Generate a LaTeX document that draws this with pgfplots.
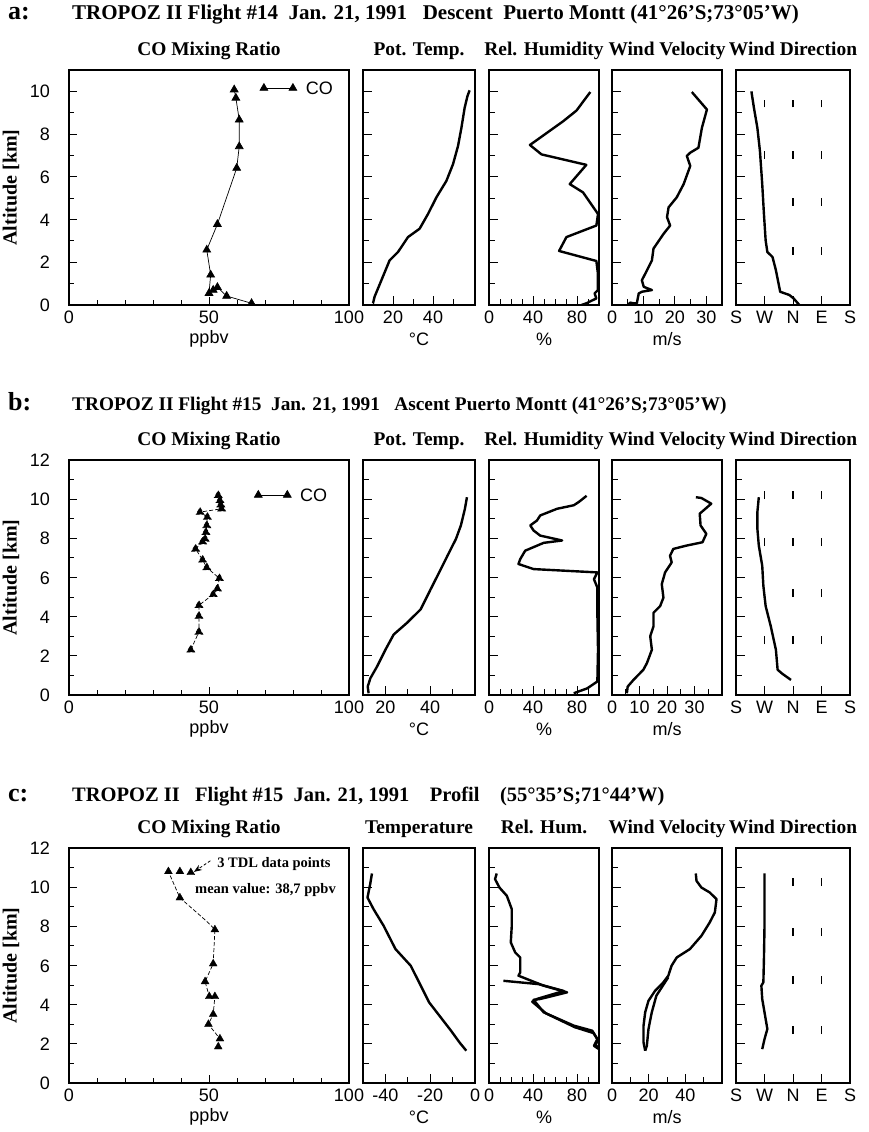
\documentclass[border=0pt]{standalone}
\usepackage{pgfplots}
\pgfplotsset{compat=1.18}
\usepackage{fontspec}
\usetikzlibrary{arrows.meta}
\setmainfont{Liberation Serif}
\newfontfamily\sansf{Liberation Sans}
\newcommand\tickf{\sansf\fontsize{18}{20}\selectfont}
\newcommand\titf{\bfseries\fontsize{19.4}{21}\selectfont}
\newcommand\bigf{\bfseries\fontsize{26}{26}\selectfont}

\pgfplotsset{
  panel/.style={
    scale only axis, height=235pt,
    axis line style={line width=1.4pt},
    tick align=inside, xtick pos=left, ytick pos=left,
    major tick length=9pt, minor tick length=6pt,
    tick style={line width=1pt, black},
    ticklabel style={font=\tickf, inner sep=0pt},
    xticklabel style={anchor=base, yshift=-18pt},
    yticklabel style={anchor=base east, xshift=-19pt, yshift=-6.5pt},
    yticklabels={},
    ymin=0, minor y tick num=1,
    every axis title/.style={at={(axis description cs:0.5,1)}, anchor=base, yshift=15pt, font=\titf},
    every axis x label/.style={at={(axis description cs:0.5,0)}, anchor=center, yshift=-34pt, font=\tickf},
    every axis y label/.style={at={(axis description cs:-0.207,0.5)}, rotate=90, anchor=center, font=\bfseries\fontsize{20}{22}\selectfont},
  },
  rowa/.style={panel, ymax=11, ytick={0,2,...,10}},
  rowb/.style={panel, ymax=12, ytick={0,2,...,12}},
  co/.style={width=280pt, xmin=0, xmax=100, xtick={0,50,100}, xticklabels={0,50,100}, minor xtick={10,20,30,40,60,70,80,90}, xlabel={ppbv}, title={CO Mixing Ratio}, ylabel={Altitude [km]}, major tick length=8pt, minor tick length=5pt},
  rh/.style={width=110pt, xmin=0, xmax=100, xtick={0,40,80}, xticklabels={0,40,80}, minor xtick={10,20,30,50,60,70,90}, xlabel={\%}},
  wv/.style={width=110pt, xlabel={m/s}, title={Wind Velocity}},
  wd/.style={width=114pt, xmin=0, xmax=4, xtick={0,1,2,3,4}, xticklabels={S,W,N,E,S}, title={Wind Direction}},
  curve/.style={line width=2.4pt, black, no markers, line join=round},
  comark/.style={black, mark=triangle*, mark size=4.5pt, line width=0.7pt},
  dashes/.style={line width=1.3pt, black, no markers, unbounded coords=jump},
  colegend/.style={legend image code/.code={\draw[##1, solid] plot coordinates {(0pt,0pt) (29pt,0pt)};},
     legend style={draw=none, fill=none, font=\tickf, inner sep=0pt, nodes={inner sep=2pt, text depth=0pt}, cells={anchor=west}}},
}

\begin{document}
\begin{tikzpicture}
\useasboundingbox (0pt,0pt) rectangle (868pt,-1132pt);

% ---------------- row a ----------------
\node[anchor=base west, font=\bigf, inner sep=0pt] at (8pt,-20pt) {a:};
\node[anchor=base west, font=\bfseries\fontsize{21}{23}\selectfont, inner sep=0pt] at (72pt,-20pt) {TROPOZ II Flight \#14\ \ Jan. 21, 1991\ \ \ Descent\ \ Puerto Montt (41°26'S;73°05'W)};

\begin{axis}[rowa, co, at={(69pt,-305pt)}, anchor=south west, yticklabels={0,2,4,6,8,10}, colegend,
  legend style={at={(axis description cs:0.95,0.923)}, anchor=east}]
\addplot[comark] coordinates {(65.2,0.08)(56.3,0.42)(53.0,0.83)(51.5,0.70)(50.0,0.55)(50.6,1.41)(49.2,2.58)(53.0,3.78)(59.9,6.41)(60.8,7.42)(60.8,8.67)(59.6,9.69)(59.0,10.08)};
\addlegendentry{\hspace{7pt}CO}
\end{axis}

\begin{axis}[rowa, width=112pt, at={(363pt,-305pt)}, anchor=south west, xmin=5, xmax=61, xtick={20,40}, xticklabels={20,40}, minor xtick={10,30,50}, xlabel={°C}, title={Pot. Temp.}]
\addplot[curve] coordinates {(10,0.08)(10.8,0.39)(14.2,1.16)(18.3,2.09)(22.5,2.48)(27.5,3.18)(33.3,3.57)(37.5,4.26)(41.7,5.04)(46.7,5.81)(50,6.59)(52.5,7.44)(54.2,8.29)(55.8,9.22)(57.2,9.77)(58.3,10.05)};
\end{axis}

\begin{axis}[rowa, rh, at={(489pt,-305pt)}, anchor=south west, title={Rel. Humidity}]
\addplot[curve] coordinates {(84,0)(88.5,0.08)(97.6,0.31)(96,0.54)(99,0.7)(99,1.47)(97.6,2.06)(63.7,2.53)(70.4,3.18)(97.6,3.72)(99.1,4.26)(85.5,5.27)(73.4,5.66)(88.5,6.56)(47.7,7.05)(37.2,7.49)(67.4,8.6)(79.5,9.1)(92.1,9.97)};
\end{axis}

\begin{axis}[rowa, wv, at={(612pt,-305pt)}, anchor=south west, xmin=0, xmax=35, xtick={0,10,20,30}, xticklabels={0,10,20,30}, minor xtick={5,15,25}]
\addplot[curve] coordinates {(5,0)(5.8,0.11)(6.9,0.08)(7.9,0.08)(8.5,0.54)(9.5,0.62)(12.7,0.70)(10.1,0.85)(9.5,1.16)(10.6,1.47)(12.7,2.09)(13.2,2.64)(16.4,3.33)(18.5,3.72)(17.5,4.11)(18.0,4.57)(20.6,5.04)(22.8,5.66)(24.9,6.51)(23.8,6.98)(24.9,7.13)(27.5,7.36)(28.6,8.29)(30.2,9.15)(25.4,9.97)};
\end{axis}

\begin{axis}[rowa, wd, at={(736pt,-305pt)}, anchor=south west]
\addplot[dashes] coordinates {(1,6.85)(1,7.2)(1,nan)(1,9.25)(1,9.6)(1,nan)
 (2,2.35)(2,2.7)(2,nan)(2,4.65)(2,5.0)(2,nan)(2,6.85)(2,7.2)(2,nan)(2,9.25)(2,9.6)(2,nan)
 (3,2.35)(3,2.7)(3,nan)(3,4.65)(3,5.0)(3,nan)(3,6.85)(3,7.2)(3,nan)(3,9.25)(3,9.6)};
\addplot[curve] coordinates {(2.22,0)(2.17,0.08)(2.02,0.31)(1.87,0.47)(1.55,0.62)(1.40,1.63)(1.28,2.25)(1.10,2.48)(1.04,3.02)(0.98,4.26)(0.92,5.66)(0.84,7.2)(0.75,8.29)(0.63,9.22)(0.54,10)};
\end{axis}

% ---------------- row b ----------------
\node[anchor=base west, font=\bigf, inner sep=0pt] at (8pt,-410pt) {b:};
\node[anchor=base west, font=\bfseries\fontsize{19.3}{21}\selectfont, inner sep=0pt] at (72pt,-410pt) {TROPOZ II Flight \#15\ \ Jan. 21, 1991\ \ \ Ascent Puerto Montt (41°26'S;73°05'W)};

\begin{axis}[rowb, co, at={(69pt,-695pt)}, anchor=south west, yticklabels={0,2,4,6,8,10,12}, colegend,
  legend style={at={(axis description cs:0.93,0.851)}, anchor=east}]
\addplot[comark, dash pattern=on 4pt off 2pt] coordinates {(43.5,2.31)(46.4,3.22)(46.4,4.03)(46.4,4.58)(51.5,5.14)(53.0,5.43)(53.7,5.96)(49.2,6.51)(47.7,6.9)(45.2,7.46)(47.7,7.83)(48.6,7.97)(48.9,8.31)(49.2,8.66)(49.4,9.09)(46.8,9.34)(54.5,9.51)(54.2,9.72)(53.9,9.94)(53.3,10.2)};
\addlegendentry{\hspace{7pt}CO}
\end{axis}

\begin{axis}[rowb, width=112pt, at={(363pt,-695pt)}, anchor=south west, xmin=10, xmax=60, xtick={20,40}, xticklabels={20,40}, minor xtick={30,50}, xlabel={°C}, title={Pot. Temp.}]
\addplot[curve] coordinates {(12.5,0.09)(12.1,0.43)(13.3,0.86)(16.3,1.46)(20,2.31)(23.7,3.09)(29.7,3.69)(35.7,4.37)(40.2,5.4)(44,6.26)(47.7,7.11)(51.5,7.97)(53.7,8.66)(55.5,9.51)(56.4,10.1)};
\end{axis}

\begin{axis}[rowb, rh, at={(489pt,-695pt)}, anchor=south west, title={Rel. Humidity}]
\addplot[curve] coordinates {(77,0.09)(89.3,0.34)(98.5,0.69)(99.1,2.31)(98.5,4.2)(98.5,5.49)(95.4,5.91)(98.5,6.26)(40.5,6.43)(26.8,6.69)(28.4,6.94)(32.9,7.37)(49.7,7.77)(66.5,7.89)(46.6,8.14)(40.5,8.4)(37.5,8.66)(43.6,8.91)(46.6,9.17)(61.9,9.51)(77.1,9.69)(81.7,9.86)(88.7,10.17)};
\end{axis}

\begin{axis}[rowb, wv, at={(612pt,-695pt)}, anchor=south west, xmin=0, xmax=40, xtick={0,10,20,30}, xticklabels={0,10,20,30}, minor xtick={5,15,25,35}]
\addplot[curve] coordinates {(5.4,0.09)(5.7,0.43)(7.8,0.77)(11.4,1.29)(12.7,1.63)(14.5,2.31)(13.9,3.0)(15.1,3.51)(15.1,4.2)(17.5,4.54)(18.7,4.97)(18.1,5.66)(19.3,6.26)(21.7,6.77)(21.1,7.11)(22.3,7.46)(27.1,7.63)(32.9,7.8)(34.3,8.23)(32.2,8.66)(31.9,9.26)(36.1,9.77)(32.5,10.06)(30.5,10.1)};
\end{axis}

\begin{axis}[rowb, wd, at={(736pt,-695pt)}, anchor=south west]
\addplot[dashes] coordinates {(1,2.6)(1,3.0)(1,nan)(1,5.0)(1,5.4)(1,nan)(1,7.6)(1,8.0)(1,nan)(1,10.0)(1,10.4)(1,nan)
 (2,2.6)(2,3.0)(2,nan)(2,5.0)(2,5.4)(2,nan)(2,7.6)(2,8.0)(2,nan)(2,10.0)(2,10.4)(2,nan)
 (3,2.6)(3,3.0)(3,nan)(3,5.0)(3,5.4)(3,nan)(3,7.6)(3,8.0)(3,nan)(3,10.0)(3,10.4)};
\addplot[curve] coordinates {(1.93,0.77)(1.63,1.08)(1.46,1.29)(1.40,2.31)(1.22,3.51)(1.04,4.54)(0.96,5.57)(0.92,6.6)(0.80,7.63)(0.75,8.49)(0.75,9.34)(0.80,10.1)};
\end{axis}

% ---------------- row c ----------------
\node[anchor=base west, font=\bigf, inner sep=0pt] at (8pt,-801pt) {c:};
\node[anchor=base west, font=\bfseries\fontsize{20.5}{22}\selectfont, inner sep=0pt] at (72pt,-801pt) {TROPOZ II\ \ \ Flight \#15\ \ Jan. 21, 1991\ \ \ \ Profil\ \ \ \ (55°35'S;71°44'W)};

\begin{axis}[rowb, co, at={(69pt,-1083pt)}, anchor=south west, yticklabels={0,2,4,6,8,10,12}]
\addplot[black, line width=0.7pt, dash pattern=on 4pt off 2pt, no markers] coordinates {(53.3,1.85)(53.9,2.26)(49.8,3.0)(51.5,3.51)(52.1,4.42)(50.1,4.42)(48.6,5.18)(51.5,6.09)(52.1,7.83)(49.4,8.23)(39.6,9.46)(35.5,10.8)};
\addplot[black, only marks, mark=triangle*, mark size=4.5pt] coordinates {(35.5,10.8)(39.6,10.8)(43.5,10.75)(39.6,9.46)(52.1,7.83)(51.5,6.09)(48.6,5.18)(50.1,4.42)(52.1,4.42)(51.5,3.51)(49.8,3.0)(53.9,2.26)(53.3,1.85)};
\node[anchor=base west, font=\bfseries\fontsize{14.5}{16}\selectfont, inner sep=0pt] at (axis cs:52.9,11.03) {3 TDL data points};
\node[anchor=base west, font=\bfseries\fontsize{14.5}{16}\selectfont, inner sep=0pt] at (axis cs:45,9.70) {mean value: 38,7 ppbv};
\draw[-{Stealth[length=8pt,width=6pt]}, line width=0.8pt, dash pattern=on 3pt off 2pt] (axis cs:50.5,11.35) -- (axis cs:44.6,10.78);
\end{axis}

\begin{axis}[rowb, width=112pt, at={(363pt,-1083pt)}, anchor=south west, xmin=-50, xmax=0, xtick={-40,-20,0}, xticklabels={-40,-20,0}, minor xtick={-30,-10}, xlabel={°C}, title={Temperature}]
\addplot[curve] coordinates {(-46.0,10.7)(-46.8,10.15)(-48.0,9.47)(-45.3,8.88)(-40.8,8.03)(-35.5,6.84)(-28.7,5.99)(-24.2,4.97)(-20.5,4.12)(-15.9,3.44)(-10.7,2.67)(-6.9,2.07)(-3.9,1.65)};
\end{axis}

\begin{axis}[rowb, rh, at={(489pt,-1083pt)}, anchor=south west, title={Rel. Hum.}]
\addplot[curve] coordinates {(7.0,10.7)(5.5,10.41)(9.5,9.98)(16.2,9.56)(20.7,8.88)(20.7,8.03)(19.8,7.18)(23.8,6.67)(28.4,6.41)(28.4,5.65)(26.8,5.48)(49.7,4.97)(71,4.63)(46.6,4.29)(40.5,4.25)(49.7,3.61)(77.1,2.93)(93.9,2.67)(98.5,2.24)(95.4,1.9)(100,1.73)};
\addplot[curve] coordinates {(13.1,5.22)(45,5.05)(68,4.7)(44,4.3)(39.3,4.15)(45.4,3.86)(52,3.55)(78,2.85)(95,2.55)(99,2.2)(97,1.95)(100,1.75)};
\end{axis}

\begin{axis}[rowb, wv, at={(612pt,-1083pt)}, anchor=south west, xmin=0, xmax=60, xtick={0,20,40}, xticklabels={0,20,40}, minor xtick={10,30,50}]
\addplot[curve] coordinates {(45.7,10.7)(46.1,10.32)(48.8,9.98)(53.3,9.73)(57.0,9.39)(56.1,8.71)(53.3,8.2)(48.8,7.52)(42.5,6.84)(35.3,6.41)(32.5,5.99)(30.7,5.48)(28.0,5.14)(23.5,4.71)(19.9,4.2)(18.1,3.61)(17.2,2.93)(17.2,2.07)(18.1,1.65)};
\addplot[curve] coordinates {(30.7,5.4)(24.2,4.46)(21.7,3.61)(19.9,2.76)(19,1.9)(18.1,1.65)};
\end{axis}

\begin{axis}[rowb, wd, at={(736pt,-1083pt)}, anchor=south west]
\addplot[dashes] coordinates {(2,2.5)(2,2.9)(2,nan)(2,5.05)(2,5.45)(2,nan)(2,7.5)(2,7.9)(2,nan)(2,10.05)(2,10.45)(2,nan)
 (3,2.5)(3,2.9)(3,nan)(3,5.05)(3,5.45)(3,nan)(3,7.5)(3,7.9)(3,nan)(3,10.05)(3,10.45)};
\addplot[curve] coordinates {(0.92,1.73)(1.0,2.24)(1.10,2.76)(1.04,3.27)(0.92,4.29)(0.89,4.97)(0.96,5.14)(0.98,6.33)(1.0,8.03)(1.0,10.7)};
\end{axis}
\end{tikzpicture}
\end{document}
